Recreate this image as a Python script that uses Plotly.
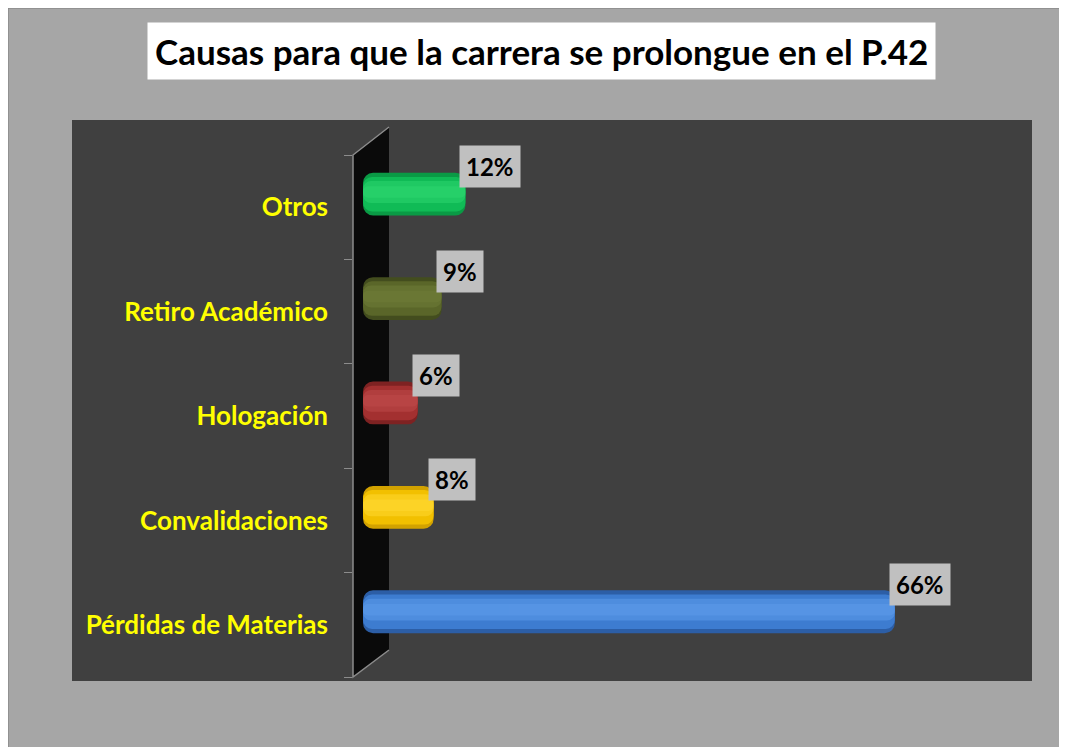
import plotly.graph_objects as go

# ---- data ----
categories = ["Pérdidas de Materias", "Convalidaciones", "Hologación", "Retiro Académico", "Otros"]
values = [66, 8, 6, 9, 12]
label_texts = ["66%", "8%", "6%", "9%", "12%"]
edge_colors = ["#2C5EA6", "#D2A200", "#7E2222", "#434D1E", "#0A9A45"]
mid_colors = ["#3D7CD0", "#F2C000", "#A33030", "#5A6629", "#10BB56"]
light_colors = ["#5C9BEA", "#FFD830", "#BE4A4A", "#6F7C38", "#2CD66F"]
title_text = "Causas para que la carrera se prolongue en el P.42"

W, H = 1067, 747
OFF = 8            # page body margin
FONT = "Lato"
BAR_BASE = -0.88   # visual 3D start of cylinders (slightly inside the wall)

def px(x):  # reference pixel -> paper
    return (x - OFF) / W

def py(y):
    return 1 - (y - OFF) / H

fig = go.Figure()

def add_layer(colors, width, offset, opacity, radius):
    fig.add_trace(go.Bar(
        y=categories, x=[v - BAR_BASE for v in values], base=BAR_BASE, orientation="h",
        marker=dict(color=colors, line=dict(width=0), cornerradius=radius),
        width=width, offset=offset, opacity=opacity,
        hoverinfo="skip", showlegend=False,
    ))

# cylinder body built from layered bands (dark edges, bright upper-middle)
add_layer(edge_colors, 0.41, -0.08, 1.0, 10)
add_layer(mid_colors, 0.33, -0.04, 1.0, 9)
add_layer(light_colors, 0.21, 0.04, 0.55, 8)
add_layer(light_colors, 0.11, 0.09, 0.55, 6)

shapes = [
    # outer gray panel
    dict(type="rect", xref="paper", yref="paper", x0=0, x1=1.05, y0=-0.05, y1=1,
         fillcolor="#A6A6A6", line=dict(color="#8A8A8A", width=1.5), layer="below"),
    # dark plot area
    dict(type="rect", xref="paper", yref="paper", x0=px(72), x1=px(1032), y0=py(681), y1=py(120),
         fillcolor="#404040", line=dict(width=0), layer="below"),
    # 3D back wall (black)
    dict(type="path", xref="paper", yref="paper",
         path=f"M {px(353)},{py(155)} L {px(389)},{py(127)} L {px(389)},{py(650)} L {px(353)},{py(677)} Z",
         fillcolor="#0A0A0A", line=dict(width=0), layer="below"),
    # wall edges
    dict(type="path", xref="paper", yref="paper",
         path=f"M {px(389)},{py(127)} L {px(353)},{py(155)} L {px(353)},{py(677)} L {px(389)},{py(650)}",
         line=dict(color="#8C8C8C", width=1.5), layer="below"),
]

annotations = [
    dict(text=title_text, xref="paper", yref="paper", x=px(541), y=py(51),
         xanchor="center", yanchor="middle", showarrow=False,
         font=dict(family=FONT, size=35, color="black", weight="bold"),
         bgcolor="white", borderpad=7),
]
for c, v, t in zip(categories, values, label_texts):
    annotations.append(dict(
        text=t, x=v, y=c, xref="x", yref="y",
        xanchor="left", yanchor="bottom", showarrow=False,
        xshift=-6, yshift=19,
        font=dict(family=FONT, size=24, color="black", weight="bold"),
        bgcolor="#C0C0C0", borderpad=6,
    ))

fig.update_layout(
    width=W, height=H,
    margin=dict(l=0, r=0, t=0, b=0),
    paper_bgcolor="#A6A6A6",
    plot_bgcolor="rgba(0,0,0,0)",
    barmode="overlay",
    shapes=shapes,
    annotations=annotations,
    xaxis=dict(domain=[px(353), px(1030)], range=[-2.14, 83.0], visible=False, fixedrange=True),
    yaxis=dict(domain=[py(677), py(155)], type="category", range=[-0.5, 4.5],
               categoryorder="array", categoryarray=categories, fixedrange=True,
               tickson="boundaries", ticks="outside", ticklen=8, tickcolor="#8C8C8C",
               showline=False, showgrid=False, zeroline=False,
               tickfont=dict(family=FONT, size=26, color="#FFFF00", weight="bold"),
               ticklabelstandoff=24),
    font=dict(family=FONT),
)

fig.write_html("out.html")
